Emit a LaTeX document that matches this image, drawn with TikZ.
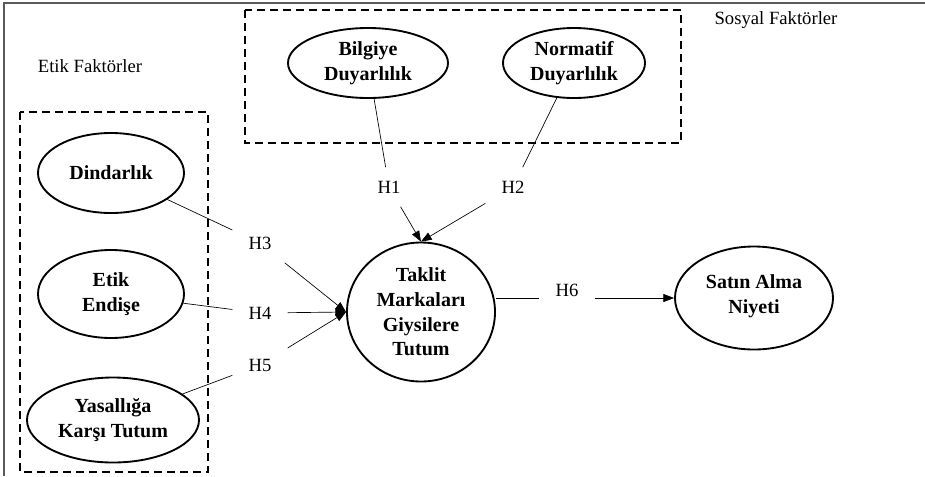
\documentclass[tikz,border=0pt]{standalone}
\usepackage{fontspec}
\setmainfont{Liberation Serif}
\usetikzlibrary{shapes.geometric,arrows.meta}

\begin{document}
\begin{tikzpicture}[x=0.75pt,y=0.75pt,yscale=-1,xscale=1,
    var/.style={draw,ellipse,line width=1.4pt,inner sep=0pt,align=center,font=\fontsize{15}{18.5}\selectfont\bfseries},
    hyp/.style={inner xsep=12pt,inner ysep=10pt,font=\fontsize{14}{16}\selectfont},
    grp/.style={line width=1.25pt,dash pattern=on 6pt off 3.75pt},
    link/.style={line width=0.5pt},
    arr/.style={line width=0.5pt,-{Triangle[length=8pt,width=6pt]}}]
    \useasboundingbox (0,0) rectangle (925,476);

    %Frame
    \draw [color={rgb, 255:red, 90; green, 90; blue, 90 },line width=1.1pt] (4,476) -- (4,3) -- (925,3) ;

    %Group boxes
    \draw [grp] (245,10) rectangle (681,143) ;
    \draw [grp] (20,112) rectangle (208,472) ;

    % Text Node
    \node [font=\fontsize{14}{16}\selectfont] (etiklbl) at (90,66) {Etik Faktörler};
    % Text Node
    \node [font=\fontsize{14}{16}\selectfont] (sosyallbl) at (776,20) {Sosyal Faktörler};

    %Shape: Ellipse
    \node [var,minimum width=120pt,minimum height=52.5pt] (bil) at (368,63) {Bilgiye\\Duyarlılık};
    \node [var,minimum width=106.5pt,minimum height=52.5pt] (nor) at (574,63) {Normatif\\Duyarlılık};
    \node [var,minimum width=109.5pt,minimum height=60pt] (din) at (111,173) {Dindarlık};
    \node [var,minimum width=109.5pt,minimum height=66pt] (end) at (111,294) {Etik\\Endişe};
    \node [var,minimum width=129pt,minimum height=63.75pt] (yas) at (113,420) {Yasallığa\\Karşı Tutum};
    \node [var,minimum width=111pt,minimum height=104.25pt] (tak) at (421,312) {Taklit\\Markaları\\Giysilere\\Tutum};
    \node [var,minimum width=118.5pt,minimum height=77.25pt,text depth=6pt] (sat) at (754,298) {Satın Alma\\Niyeti};

    % Hypothesis labels
    \node [hyp] (h1) at (389,187) {H1};
    \node [hyp] (h2) at (513,187) {H2};
    \node [hyp] (h3) at (260,243) {H3};
    \node [hyp] (h4) at (260,313) {H4};
    \node [hyp] (h5) at (260,365) {H5};
    \node [hyp] (h6) at (567,290) {H6};

    %Straight Lines
    \draw [link] (bil) -- (h1) ;
    \draw [arr] (h1) -- (tak.north) ;
    \draw [link] (nor) -- (h2) ;
    \draw [arr] (h2) -- (tak.north) ;
    \draw [link] (din) -- (h3) ;
    \draw [arr] (h3) -- (tak.west) ;
    \draw [link] (end) -- (h4) ;
    \draw [arr] (h4) -- (tak.west) ;
    \draw [link] (yas) -- (h5) ;
    \draw [arr] (h5) -- (tak.west) ;
    \draw [link] (tak.east |- sat) -- (h6.west |- sat) ;
    \draw [arr] (h6.east |- sat) -- (sat) ;

\end{tikzpicture}
\end{document}
